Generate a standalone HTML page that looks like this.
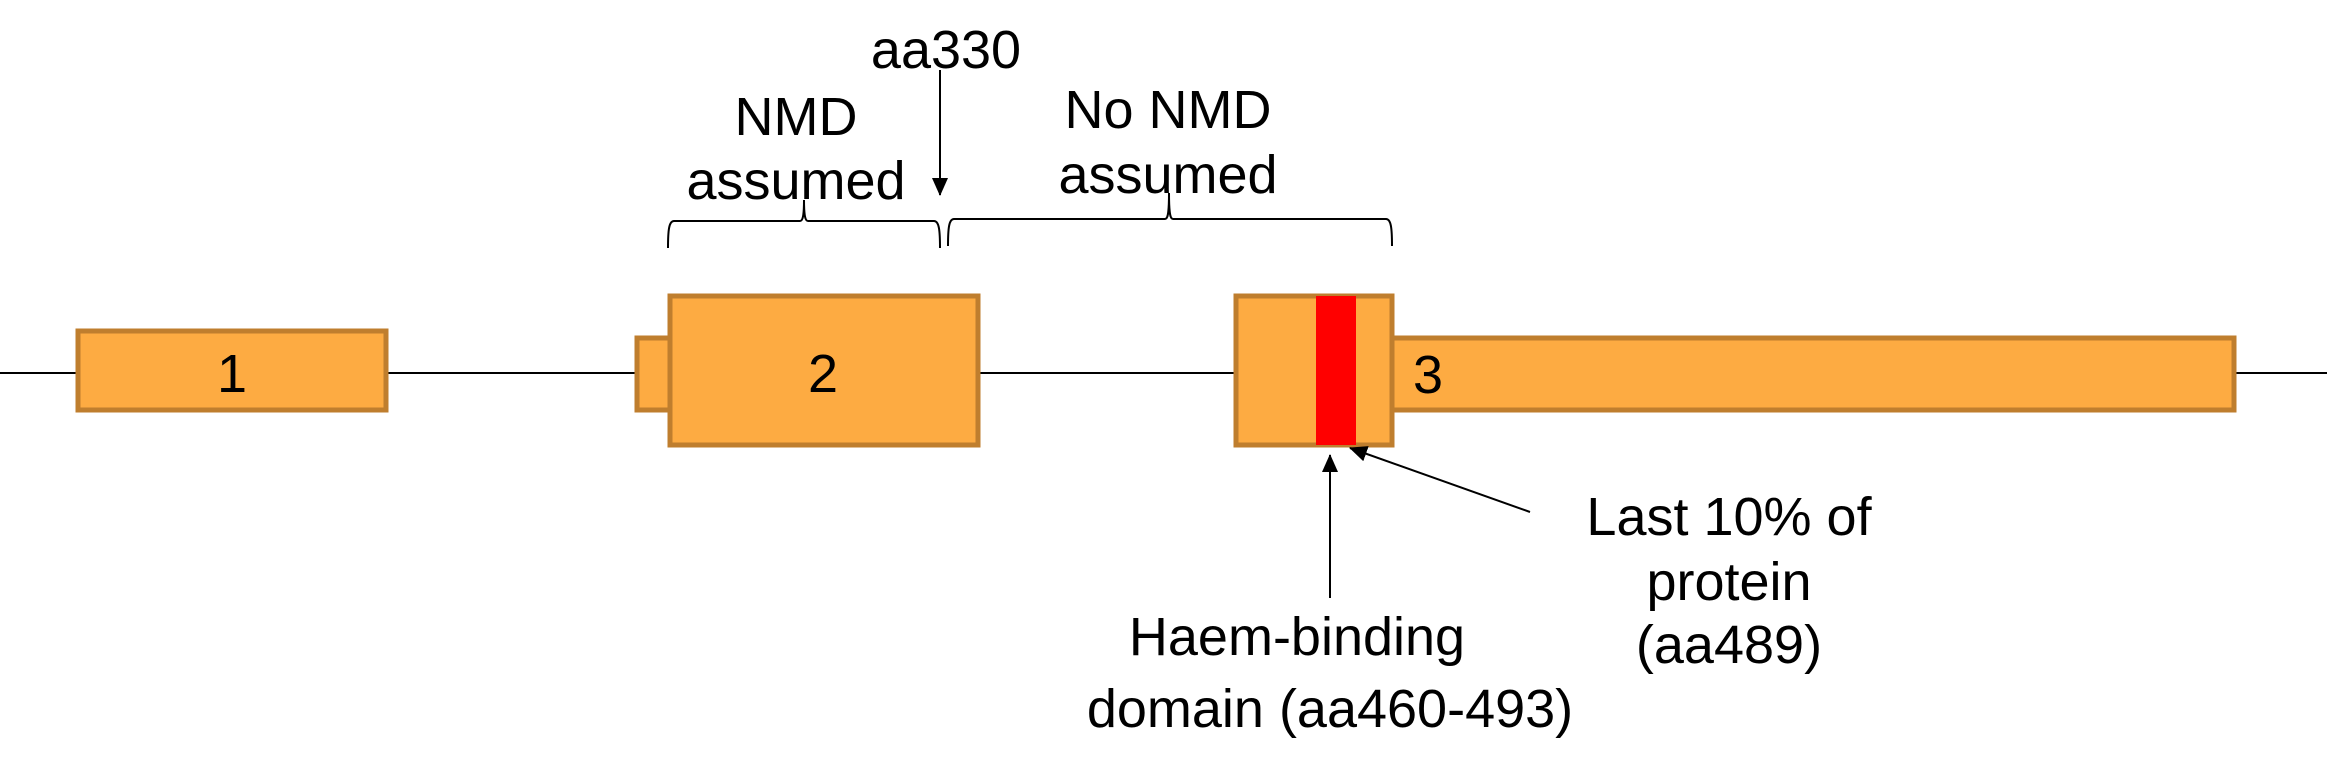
<!DOCTYPE html>
<html><head><style>
html,body{margin:0;padding:0;background:#fff;}
svg{display:block;}
text{font-family:"Liberation Sans",Arial,sans-serif;font-size:54px;fill:#000;}
</style></head><body>
<svg width="2327" height="764" viewBox="0 0 2327 764" xmlns="http://www.w3.org/2000/svg">
<defs>
<marker id="ah" markerWidth="18" markerHeight="16" refX="17" refY="8" orient="auto" markerUnits="userSpaceOnUse" viewBox="0 0 18 16">
<path d="M0,0 L18,8 L0,16 z" fill="#000"/>
</marker>
</defs>
<line x1="0" y1="373" x2="2327" y2="373" stroke="#000" stroke-width="2"/>
<g fill="#FDAB42" stroke="#BF7E2E" stroke-width="5">
<rect x="78" y="331" width="308" height="79"/>
<rect x="637" y="338" width="34" height="72"/>
<rect x="670" y="296" width="308" height="149"/>
<rect x="1392" y="338" width="842" height="72"/>
<rect x="1236" y="296" width="156" height="149"/>
</g>
<rect x="1316" y="296" width="40" height="149" fill="#FF0000"/>
<text x="232" y="392" text-anchor="middle">1</text>
<text x="823" y="392" text-anchor="middle">2</text>
<text x="1428" y="393" text-anchor="middle">3</text>
<text x="946" y="68" text-anchor="middle">aa330</text>
<line x1="940" y1="70" x2="940" y2="195" stroke="#000" stroke-width="2" marker-end="url(#ah)"/>
<text x="796" y="135" text-anchor="middle">NMD</text>
<text x="796" y="199" text-anchor="middle">assumed</text>
<text x="1168" y="128" text-anchor="middle">No NMD</text>
<text x="1168" y="193" text-anchor="middle">assumed</text>
<path d="M668,248 C668,230 669,221 674,221 L800,221 C803,221 804,215 804,200 C804,215 805,221 808,221 L934,221 C939,221 940,230 940,248" fill="none" stroke="#000" stroke-width="2"/>
<path d="M948,246 C948,228 949,219 954,219 L1165,219 C1168,219 1169,213 1169,193 C1169,213 1170,219 1173,219 L1386,219 C1391,219 1392,228 1392,246" fill="none" stroke="#000" stroke-width="2"/>
<line x1="1330" y1="598" x2="1330" y2="455" stroke="#000" stroke-width="2" marker-end="url(#ah)"/>
<line x1="1530" y1="512" x2="1350" y2="448" stroke="#000" stroke-width="2" marker-end="url(#ah)"/>
<text x="1297" y="655" text-anchor="middle">Haem-binding</text>
<text x="1330" y="727" text-anchor="middle">domain (aa460-493)</text>
<text x="1729" y="535" text-anchor="middle">Last 10% of</text>
<text x="1729" y="600" text-anchor="middle">protein</text>
<text x="1729" y="663" text-anchor="middle">(aa489)</text>
</svg>
</body></html>
